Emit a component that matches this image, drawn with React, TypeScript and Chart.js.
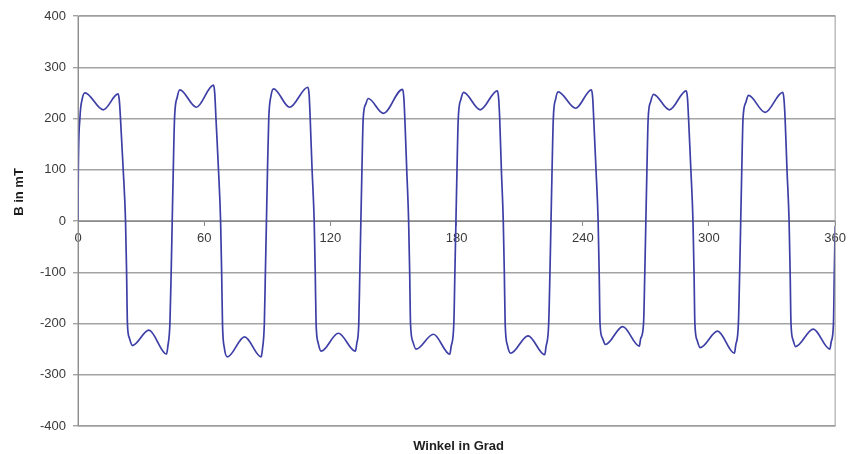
import React, { useEffect, useRef } from "react";
import { Chart, registerables } from "chart.js";

Chart.register(...registerables);

// Flux density over one revolution (angle in degrees, B in mT)
const angleDeg: number[] = [
  0, 0.15, 0.9, 2.0, 3.3, 12.0, 19.1, 19.7, 20.2, 21.5, 22.6, 23.1, 23.5, 24.4, 25.9,
  33.7, 42.1, 42.7, 43.7, 44.3, 44.8,
  45.3, 45.9, 47.2, 48.4, 56.3, 64.4, 65.0, 65.6, 66.8, 67.8, 68.3, 68.7, 69.6, 71.0,
  79.2, 87.1, 87.7, 88.6, 89.1, 89.6,
  90.1, 90.7, 91.8, 93.0, 100.6, 109.3, 109.9, 110.4, 111.3, 112.3, 112.8, 113.2, 114.2, 115.6,
  123.8, 131.9, 132.5, 133.5, 134.0, 134.5,
  135.0, 135.6, 136.8, 138.0, 145.2, 154.3, 154.9, 155.4, 156.3, 157.2, 157.7, 158.1, 159.2, 160.7,
  169.0, 176.8, 177.4, 178.7, 179.2, 179.7,
  180.2, 180.8, 182.1, 183.3, 191.2, 199.4, 200.0, 200.5, 201.3, 202.2, 202.7, 203.1, 204.2, 205.7,
  214.0, 221.9, 222.5, 223.8, 224.4, 224.9,
  225.4, 226.0, 227.1, 228.3, 236.6, 244.1, 244.7, 245.2, 246.3, 247.3, 247.8, 248.2, 249.3, 250.8,
  259.0, 266.9, 267.5, 268.9, 269.5, 270.0,
  270.5, 271.1, 272.3, 273.6, 281.2, 289.2, 289.8, 290.3, 291.4, 292.4, 292.9, 293.3, 294.4, 295.8,
  304.1, 312.1, 312.7, 314.0, 314.6, 315.1,
  315.6, 316.2, 317.5, 318.8, 326.7, 335.1, 335.7, 336.2, 337.1, 338.1, 338.6, 339.0, 340.0, 341.2,
  349.6, 357.5, 358.1, 359.2, 359.6, 360,
];

const fluxMilliTesla: number[] = [
  0, 100, 200, 238, 250, 217, 248, 233, 200, 100, 0, -100, -200, -228, -243,
  -213, -260, -245, -200, -100, 0,
  100, 200, 242, 256, 222, 265, 250, 200, 100, 0, -100, -200, -248, -265,
  -226, -265, -250, -200, -100, 0,
  100, 200, 245, 258, 222, 261, 246, 200, 100, 0, -100, -200, -238, -254,
  -219, -254, -240, -200, -100, 0,
  100, 200, 228, 239, 210, 257, 242, 200, 100, 0, -100, -200, -235, -250,
  -221, -260, -245, -200, -100, 0,
  100, 200, 238, 251, 217, 254, 239, 200, 100, 0, -100, -200, -243, -258,
  -224, -261, -246, -200, -100, 0,
  100, 200, 238, 252, 220, 256, 241, 200, 100, 0, -100, -200, -228, -241,
  -206, -244, -230, -200, -100, 0,
  100, 200, 233, 247, 217, 254, 239, 200, 100, 0, -100, -200, -233, -247,
  -215, -258, -243, -200, -100, 0,
  100, 200, 231, 245, 212, 251, 236, 200, 100, 0, -100, -200, -232, -245,
  -211, -250, -236, -200, -100, -10,
];

const xAxisTitle = "Winkel in Grad";
const yAxisTitle = "B in mT";

const FONT = "'Liberation Sans', Arial, sans-serif";

// Draws the plot frame and both axis titles
const framePlugin = {
  id: "frameAndTitles",
  afterDraw(chart: Chart) {
    const { ctx, chartArea } = chart;
    ctx.save();
    ctx.strokeStyle = "#9a9a9a";
    ctx.lineWidth = 1;
    ctx.strokeRect(chartArea.left, chartArea.top, chartArea.right - chartArea.left, chartArea.bottom - chartArea.top);

    ctx.fillStyle = "#1e1e1e";
    ctx.font = `bold 13px ${FONT}`;
    ctx.textAlign = "center";
    ctx.textBaseline = "middle";
    ctx.fillText(xAxisTitle, (chartArea.left + chartArea.right) / 2 + 2, chartArea.bottom + 20);

    ctx.translate(19, chartArea.top + 176);
    ctx.rotate(-Math.PI / 2);
    ctx.fillText(yAxisTitle, 0, 0);
    ctx.restore();
  },
};

export default function App() {
  const canvasRef = useRef<HTMLCanvasElement | null>(null);

  useEffect(() => {
    document.body.style.margin = "0";
    const canvas = canvasRef.current;
    if (!canvas) return;

    const points = angleDeg.map((a, i) => ({ x: a, y: fluxMilliTesla[i] }));

    const chart = new Chart(canvas, {
      type: "line",
      data: {
        datasets: [
          {
            data: points,
            borderColor: "#3d3fa6",
            borderWidth: 1.7,
            pointRadius: 0,
            fill: false,
            cubicInterpolationMode: "monotone",
          },
        ],
      },
      options: {
        animation: false,
        responsive: false,
        devicePixelRatio: 1,
        layout: { padding: { left: 0, top: 16, right: 15, bottom: 28 } },
        plugins: {
          legend: { display: false },
          tooltip: { enabled: false },
        },
        scales: {
          x: {
            type: "linear",
            position: { y: 0 } as any,
            min: 0,
            max: 360,
            ticks: {
              stepSize: 60,
              color: "#3a3a3a",
              font: { family: FONT, size: 13 },
              padding: 6,
              maxRotation: 0,
            },
            grid: {
              drawOnChartArea: false,
              drawTicks: true,
              tickLength: 4,
              color: "#8a8a8a",
            },
            border: { display: true, color: "#8a8a8a", width: 1 },
          },
          y: {
            type: "linear",
            min: -400,
            max: 400,
            ticks: {
              stepSize: 100,
              color: "#3a3a3a",
              font: { family: FONT, size: 13 },
              padding: 7,
            },
            grid: {
              color: "#a3a3a3",
              lineWidth: 1.4,
              tickLength: 5,
            },
            border: { display: true, color: "#808080", width: 1 },
            afterFit(scale: any) {
              scale.width = 78;
            },
          },
        },
      },
      plugins: [framePlugin],
    });

    return () => chart.destroy();
  }, []);

  return (
    <div style={{ width: 852, height: 454, background: "#ffffff" }}>
      <canvas ref={canvasRef} width={852} height={454} />
    </div>
  );
}
